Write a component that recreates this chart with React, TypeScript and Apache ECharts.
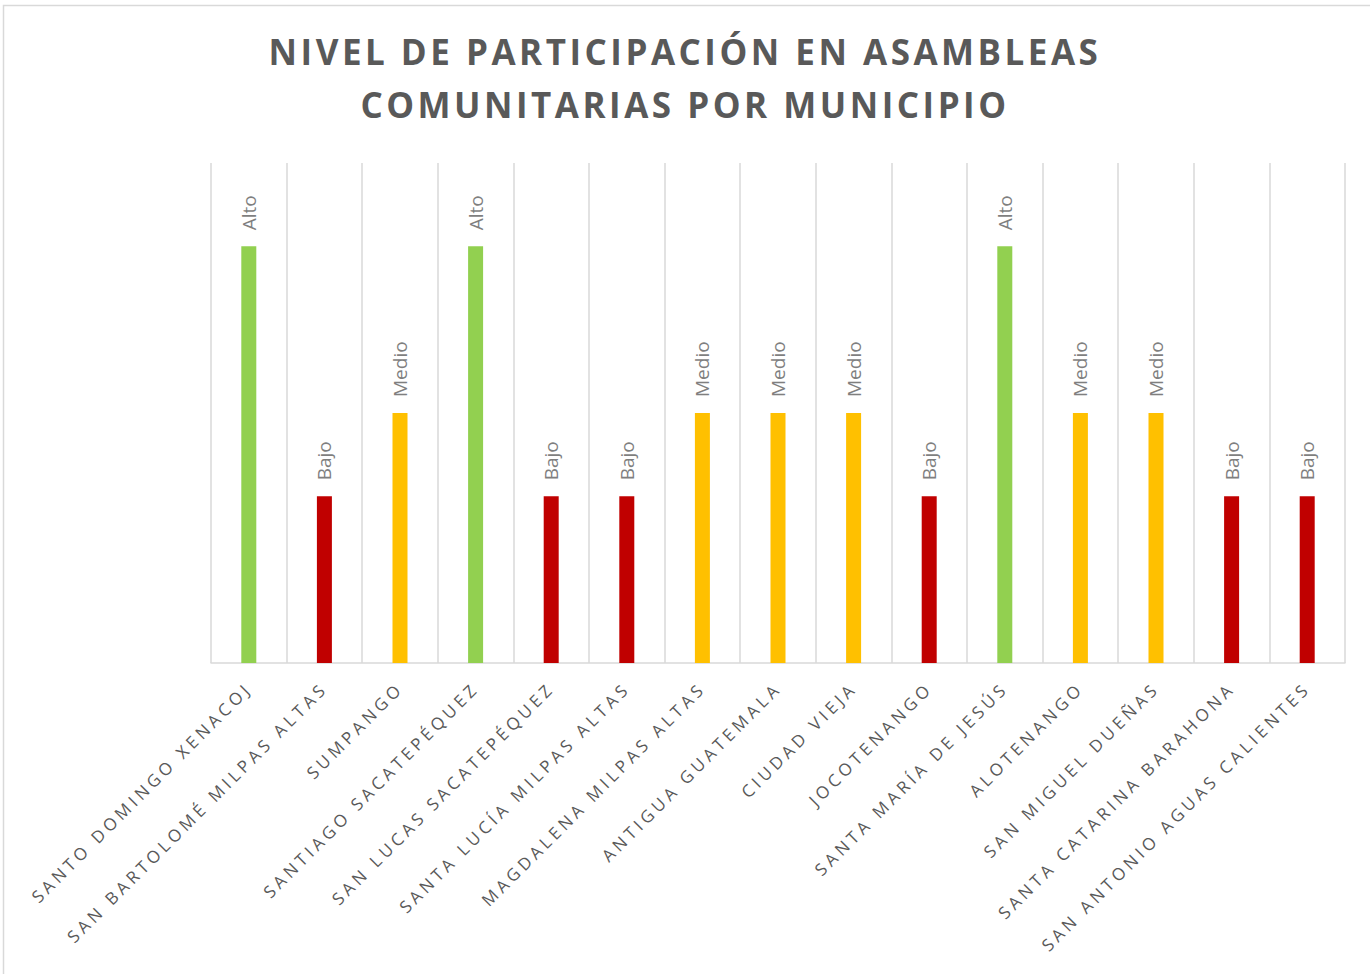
import React, { useEffect, useRef } from "react";
import * as echarts from "echarts";

const titleLines = ["NIVEL DE PARTICIPACIÓN EN ASAMBLEAS", "COMUNITARIAS POR MUNICIPIO"];

const municipios = [
  "SANTO DOMINGO XENACOJ",
  "SAN BARTOLOMÉ MILPAS ALTAS",
  "SUMPANGO",
  "SANTIAGO SACATEPÉQUEZ",
  "SAN LUCAS SACATEPÉQUEZ",
  "SANTA LUCÍA MILPAS ALTAS",
  "MAGDALENA MILPAS ALTAS",
  "ANTIGUA GUATEMALA",
  "CIUDAD VIEJA",
  "JOCOTENANGO",
  "SANTA MARÍA DE JESÚS",
  "ALOTENANGO",
  "SAN MIGUEL DUEÑAS",
  "SANTA CATARINA BARAHONA",
  "SAN ANTONIO AGUAS CALIENTES",
];

const niveles = [
  "Alto", "Bajo", "Medio", "Alto", "Bajo", "Bajo", "Medio", "Medio",
  "Medio", "Bajo", "Alto", "Medio", "Medio", "Bajo", "Bajo",
];

const nivelNombres = ["Bajo", "Medio", "Alto"];
const nivelValores = [2, 3, 5];
const nivelColores = ["#C00000", "#FFC000", "#92D050"];

export default function App() {
  const ref = useRef<HTMLDivElement>(null);

  useEffect(() => {
    if (!ref.current) return;
    const chart = echarts.init(ref.current, null, { renderer: "svg" });
    const data = niveles.map((n) => {
      const i = nivelNombres.indexOf(n);
      return { value: nivelValores[i], nivel: n, itemStyle: { color: nivelColores[i] } };
    });
    chart.setOption({
      animation: false,
      backgroundColor: "#ffffff",
      title: {
        text: titleLines.join("\n"),
        left: "center",
        top: 20,
        textStyle: {
          fontFamily: "Open Sans",
          fontWeight: "bold",
          fontSize: 35,
          color: "#595959",
          lineHeight: 53,
        },
      },
      graphic: [
        {
          type: "rect",
          shape: { x: 3.5, y: 5.5, width: 1400, height: 1000 },
          style: { fill: "none", stroke: "#d9d9d9", lineWidth: 1.5 },
          silent: true,
        },
      ],
      grid: { left: 211, right: 25, top: 163, bottom: 311 },
      xAxis: {
        type: "category",
        data: municipios,
        axisLine: { lineStyle: { color: "#d9d9d9", width: 1.5 } },
        axisTick: { show: false },
        splitLine: { show: true, lineStyle: { color: "#d9d9d9", width: 1.5 } },
        axisLabel: {
          interval: 0,
          rotate: 45,
          margin: 22,
          fontFamily: "Open Sans",
          fontSize: 17,
          color: "#595959",
        },
      },
      yAxis: {
        type: "value",
        min: 0,
        max: 6,
        show: false,
        splitLine: { show: false },
      },
      series: [
        {
          type: "bar",
          data,
          barWidth: 15,
          label: {
            show: true,
            position: "top",
            rotate: 90,
            align: "left",
            verticalAlign: "middle",
            distance: 16,
            fontFamily: "Open Sans",
            fontSize: 19,
            color: "#7f7f7f",
            formatter: (p: any) => p.data.nivel,
          },
        },
      ],
    });

    const applySpacing = () => {
      const texts = ref.current?.querySelectorAll("text");
      texts?.forEach((t) => {
        const s = (t.textContent || "").trim();
        if (municipios.includes(s)) {
          t.style.letterSpacing = "4px";
        } else if (titleLines.includes(s)) {
          t.style.letterSpacing = "3.5px";
        }
      });
    };
    applySpacing();
    chart.on("finished", applySpacing);
    const timer = setTimeout(applySpacing, 50);

    return () => {
      clearTimeout(timer);
      chart.dispose();
    };
  }, []);

  return (
    <div
      ref={ref}
      style={{ position: "fixed", left: 0, top: 0, width: 1370, height: 974 }}
    />
  );
}
